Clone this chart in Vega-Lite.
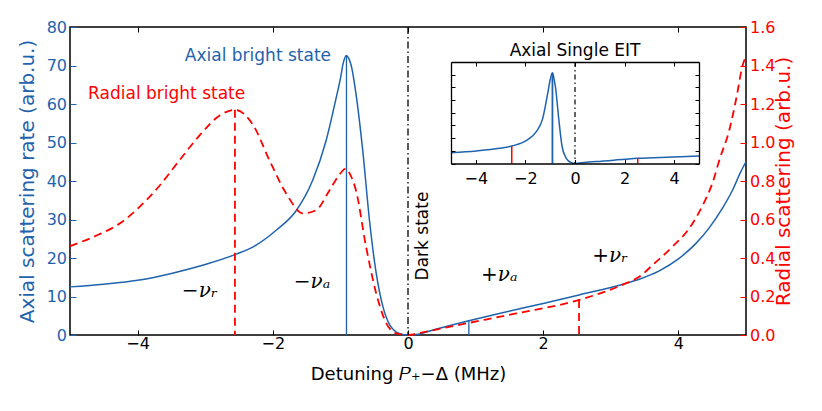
{
  "$schema": "https://vega.github.io/schema/vega-lite/v6.json",
  "width": 676,
  "height": 308,
  "autosize": {"type": "none"},
  "padding": {"left": 70, "top": 27, "right": 76, "bottom": 76},
  "config": {
    "view": {"stroke": "black", "strokeWidth": 1.5},
    "font": "DejaVu Sans",
    "axis": {
      "grid": false,
      "domain": false,
      "labelFont": "DejaVu Sans",
      "titleFont": "DejaVu Sans",
      "labelFontSize": 16,
      "titleFontSize": 20,
      "titleFontWeight": "normal",
      "tickColor": "black",
      "labelColor": "black",
      "titleColor": "black",
      "tickWidth": 1
    }
  },
  "datasets": {
    "axialMain": [
      {"x": -5.0, "y": 12.5}, {"x": -4.5, "y": 13.2}, {"x": -4.0, "y": 14.2}, {"x": -3.5, "y": 16.0},
      {"x": -3.0, "y": 18.3}, {"x": -2.54, "y": 21.0}, {"x": -2.29, "y": 22.9}, {"x": -1.95, "y": 27.2},
      {"x": -1.65, "y": 32.4}, {"x": -1.41, "y": 40.2}, {"x": -1.21, "y": 50.6}, {"x": -1.06, "y": 61.8},
      {"x": -1.0, "y": 66.6}, {"x": -0.96, "y": 70.5}, {"x": -0.91, "y": 72.6}, {"x": -0.875, "y": 71.8},
      {"x": -0.84, "y": 70.0}, {"x": -0.77, "y": 62.7}, {"x": -0.67, "y": 48.0}, {"x": -0.57, "y": 29.8},
      {"x": -0.47, "y": 16.0}, {"x": -0.37, "y": 7.3}, {"x": -0.27, "y": 2.6}, {"x": -0.13, "y": 0.4},
      {"x": 0.0, "y": 0.0}, {"x": 0.12, "y": 0.1}, {"x": 0.37, "y": 1.3}, {"x": 0.9, "y": 3.7},
      {"x": 1.35, "y": 5.6}, {"x": 2.0, "y": 8.2}, {"x": 2.53, "y": 10.4}, {"x": 3.22, "y": 13.4},
      {"x": 3.42, "y": 14.5}, {"x": 3.71, "y": 16.6}, {"x": 4.01, "y": 19.9}, {"x": 4.26, "y": 23.8},
      {"x": 4.45, "y": 27.7}, {"x": 4.65, "y": 32.9}, {"x": 4.8, "y": 37.6}, {"x": 4.92, "y": 42.3},
      {"x": 5.0, "y": 45.0}
    ],
    "radialMain": [
      {"x": -5.0, "y": 0.462}, {"x": -4.6, "y": 0.518}, {"x": -4.26, "y": 0.58}, {"x": -3.97, "y": 0.666},
      {"x": -3.67, "y": 0.778}, {"x": -3.38, "y": 0.908}, {"x": -3.08, "y": 1.038}, {"x": -2.78, "y": 1.142},
      {"x": -2.56, "y": 1.17}, {"x": -2.29, "y": 1.09}, {"x": -2.05, "y": 0.908}, {"x": -1.8, "y": 0.734},
      {"x": -1.55, "y": 0.632}, {"x": -1.36, "y": 0.648}, {"x": -1.16, "y": 0.752}, {"x": -1.0, "y": 0.84},
      {"x": -0.92, "y": 0.864}, {"x": -0.85, "y": 0.83}, {"x": -0.77, "y": 0.752}, {"x": -0.62, "y": 0.458},
      {"x": -0.47, "y": 0.216}, {"x": -0.32, "y": 0.06}, {"x": -0.17, "y": 0.008}, {"x": 0.0, "y": 0.0},
      {"x": 0.27, "y": 0.018}, {"x": 0.86, "y": 0.06}, {"x": 1.6, "y": 0.112}, {"x": 2.53, "y": 0.182},
      {"x": 3.22, "y": 0.268}, {"x": 3.42, "y": 0.302}, {"x": 3.62, "y": 0.364}, {"x": 3.91, "y": 0.458},
      {"x": 4.16, "y": 0.554}, {"x": 4.36, "y": 0.674}, {"x": 4.5, "y": 0.786}, {"x": 4.62, "y": 0.924},
      {"x": 4.75, "y": 1.06}, {"x": 4.85, "y": 1.218}, {"x": 4.95, "y": 1.4}, {"x": 5.0, "y": 1.45}
    ],
    "mainLines": [
      {"x": -0.91, "top": 72.6, "group": "axial"},
      {"x": 0.9, "top": 3.7, "group": "axial"},
      {"x": -2.56, "top": 1.17, "group": "radial"},
      {"x": 2.53, "top": 0.182, "group": "radial"},
      {"x": 0.0, "top": 80, "group": "dark"}
    ],
    "notes": [
      {"text": "Axial bright state", "x": -2.22, "y": 71.1, "kind": "state", "group": "axial"},
      {"text": "Radial bright state", "x": -3.57, "y": 61.2, "kind": "state", "group": "radial"},
      {"text": "Dark state", "x": 0.3, "y": 25.7, "kind": "dark", "group": "neutral"},
      {"text": "−νᵣ", "x": -3.08, "y": 9.9, "kind": "nu", "group": "neutral"},
      {"text": "−νₐ", "x": -1.42, "y": 12.1, "kind": "nu", "group": "neutral"},
      {"text": "+νₐ", "x": 1.35, "y": 14.1, "kind": "nu", "group": "neutral"},
      {"text": "+νᵣ", "x": 2.99, "y": 19.0, "kind": "nu", "group": "neutral"}
    ],
    "insetCurve": [
      {"x": -5.0, "y": 8.5}, {"x": -3.98, "y": 9.9}, {"x": -3.04, "y": 12.0}, {"x": -2.55, "y": 13.8},
      {"x": -1.97, "y": 18.0}, {"x": -1.56, "y": 25.1}, {"x": -1.3, "y": 35.6}, {"x": -1.1, "y": 55.3},
      {"x": -1.0, "y": 66.0}, {"x": -0.91, "y": 71.5}, {"x": -0.85, "y": 67.0}, {"x": -0.79, "y": 60.5},
      {"x": -0.65, "y": 34.3}, {"x": -0.52, "y": 13.2}, {"x": -0.35, "y": 4.1}, {"x": -0.15, "y": 0.6},
      {"x": 0.0, "y": 0.0}, {"x": 0.45, "y": 1.0}, {"x": 0.85, "y": 1.5}, {"x": 2.0, "y": 3.3},
      {"x": 2.53, "y": 4.1}, {"x": 3.94, "y": 5.1}, {"x": 5.0, "y": 5.9}
    ],
    "insetLines": [
      {"x": -0.91, "top": 71.5, "group": "axial"},
      {"x": -2.55, "top": 13.8, "group": "radial"},
      {"x": 2.53, "top": 4.1, "group": "radial"},
      {"x": 0.0, "top": 80, "group": "dark"}
    ],
    "insetTitle": [
      {"text": "Axial Single EIT", "x": 0.0, "y": 84.7}
    ]
  },
  "resolve": {"scale": {"x": "independent", "y": "independent", "color": "independent"}},
  "layer": [
    {
      "data": {"name": "axialMain"},
      "mark": {"type": "line", "color": "#1f63ae", "strokeWidth": 1.5, "interpolate": "monotone"},
      "encoding": {
        "x": {"field": "x", "type": "quantitative",
          "scale": {"domain": [-5, 5], "nice": false, "zero": false},
          "axis": {"orient": "bottom", "values": [-4, -2, 0, 2, 4], "tickSize": -5, "labelPadding": 5.5,
            "title": "Detuning 𝑃₊−Δ (MHz)", "titleFontSize": 18, "titlePadding": 14}},
        "y": {"field": "y", "type": "quantitative",
          "scale": {"domain": [0, 80], "nice": false},
          "axis": {"orient": "left", "values": [0, 10, 20, 30, 40, 50, 60, 70, 80], "tickSize": -6,
            "tickColor": "#1f63ae", "labelColor": "#1f63ae", "labelPadding": 9.5,
            "title": "Axial scattering rate (arb.u.)", "titleColor": "#1f63ae", "titlePadding": 9}}
      }
    },
    {
      "data": {"name": "radialMain"},
      "mark": {"type": "line", "color": "#ff0000", "strokeWidth": 1.8, "strokeDash": [8, 5], "interpolate": "monotone"},
      "encoding": {
        "x": {"field": "x", "type": "quantitative",
          "scale": {"domain": [-5, 5], "nice": false, "zero": false},
          "axis": {"orient": "top", "values": [-4, -2, 0, 2, 4], "tickSize": -5, "labels": false, "title": null}},
        "y": {"field": "y", "type": "quantitative",
          "scale": {"domain": [0, 1.6], "nice": false},
          "axis": {"orient": "right", "values": [0, 0.2, 0.4, 0.6, 0.8, 1.0, 1.2, 1.4, 1.6], "format": ".1f",
            "tickSize": -6, "tickColor": "#ff0000", "labelColor": "#ff0000", "labelPadding": 9.5,
            "title": "Radial scattering (arb.u.)", "titleColor": "#ff0000", "titleAngle": 270,
            "titleBaseline": "top", "titlePadding": -1}}
      }
    },
    {
      "data": {"name": "mainLines"},
      "transform": [{"filter": "datum.group === 'axial'"}],
      "mark": {"type": "rule", "color": "#1f63ae", "strokeWidth": 1.3},
      "encoding": {
        "x": {"field": "x", "type": "quantitative", "scale": {"domain": [-5, 5], "nice": false, "zero": false}, "axis": null},
        "y": {"field": "top", "type": "quantitative", "scale": {"domain": [0, 80], "nice": false}, "axis": null},
        "y2": {"datum": 0}
      }
    },
    {
      "data": {"name": "mainLines"},
      "transform": [{"filter": "datum.group === 'radial'"}],
      "mark": {"type": "rule", "color": "#ff0000", "strokeWidth": 1.8, "strokeDash": [8, 5]},
      "encoding": {
        "x": {"field": "x", "type": "quantitative", "scale": {"domain": [-5, 5], "nice": false, "zero": false}, "axis": null},
        "y": {"field": "top", "type": "quantitative", "scale": {"domain": [0, 1.6], "nice": false}, "axis": null},
        "y2": {"datum": 0}
      }
    },
    {
      "data": {"name": "mainLines"},
      "transform": [{"filter": "datum.group === 'dark'"}],
      "mark": {"type": "rule", "color": "black", "strokeWidth": 1.3, "strokeDash": [7, 3, 1.5, 3]},
      "encoding": {
        "x": {"field": "x", "type": "quantitative", "scale": {"domain": [-5, 5], "nice": false, "zero": false}, "axis": null},
        "y": {"field": "top", "type": "quantitative", "scale": {"domain": [0, 80], "nice": false}, "axis": null},
        "y2": {"datum": 0}
      }
    },
    {
      "data": {"name": "notes"},
      "transform": [{"filter": "datum.kind === 'state'"}],
      "mark": {"type": "text", "fontSize": 17, "align": "center", "baseline": "alphabetic", "font": "DejaVu Sans"},
      "encoding": {
        "x": {"field": "x", "type": "quantitative", "scale": {"domain": [-5, 5], "nice": false, "zero": false}, "axis": null},
        "y": {"field": "y", "type": "quantitative", "scale": {"domain": [0, 80], "nice": false}, "axis": null},
        "text": {"field": "text"},
        "color": {"field": "group", "type": "nominal", "scale": {"domain": ["axial", "radial"], "range": ["#1f63ae", "#ff0000"]}, "legend": null}
      }
    },
    {
      "data": {"name": "notes"},
      "transform": [{"filter": "datum.kind === 'dark'"}],
      "mark": {"type": "text", "fontSize": 17, "align": "center", "baseline": "alphabetic", "angle": 270, "color": "black", "font": "DejaVu Sans"},
      "encoding": {
        "x": {"field": "x", "type": "quantitative", "scale": {"domain": [-5, 5], "nice": false, "zero": false}, "axis": null},
        "y": {"field": "y", "type": "quantitative", "scale": {"domain": [0, 80], "nice": false}, "axis": null},
        "text": {"field": "text"}
      }
    },
    {
      "data": {"name": "notes"},
      "transform": [{"filter": "datum.kind === 'nu'"}],
      "mark": {"type": "text", "fontSize": 20, "align": "center", "baseline": "alphabetic", "color": "black", "font": "DejaVu Serif", "fontStyle": "italic"},
      "encoding": {
        "x": {"field": "x", "type": "quantitative", "scale": {"domain": [-5, 5], "nice": false, "zero": false}, "axis": null},
        "y": {"field": "y", "type": "quantitative", "scale": {"domain": [0, 80], "nice": false}, "axis": null},
        "text": {"field": "text"}
      }
    },
    {
      "data": {"values": [{}]},
      "mark": {"type": "rect", "color": "white"},
      "encoding": {
        "x": {"datum": -5, "type": "quantitative",
          "scale": {"domain": [-5, 5], "range": [381, 629], "nice": false, "zero": false},
          "axis": {"orient": "bottom", "offset": -171.5, "values": [-4, -2, 0, 2, 4], "tickSize": -4, "labelPadding": 11,
            "domain": true, "domainColor": "black", "domainWidth": 1.3, "zindex": 1, "title": null}},
        "x2": {"datum": 5},
        "y": {"datum": 0, "type": "quantitative",
          "scale": {"domain": [0, 80], "range": [136.5, 35], "nice": false},
          "axis": {"orient": "left", "offset": -381, "values": [0, 10, 20, 30, 40, 50, 60, 70, 80], "tickSize": -4, "labels": false,
            "domain": true, "domainColor": "black", "domainWidth": 1.3, "zindex": 1, "title": null}},
        "y2": {"datum": 80}
      }
    },
    {
      "data": {"name": "insetCurve"},
      "mark": {"type": "line", "color": "#1f63ae", "strokeWidth": 1.5, "interpolate": "monotone"},
      "encoding": {
        "x": {"field": "x", "type": "quantitative",
          "scale": {"domain": [-5, 5], "range": [381, 629], "nice": false, "zero": false},
          "axis": {"orient": "top", "offset": -35, "values": [-4, -2, 0, 2, 4], "tickSize": -4, "labels": false,
            "domain": true, "domainColor": "black", "domainWidth": 1.3, "zindex": 1, "title": null}},
        "y": {"field": "y", "type": "quantitative",
          "scale": {"domain": [0, 80], "range": [136.5, 35], "nice": false},
          "axis": {"orient": "right", "offset": -47, "values": [0, 10, 20, 30, 40, 50, 60, 70, 80], "tickSize": -4, "labels": false,
            "domain": true, "domainColor": "black", "domainWidth": 1.3, "zindex": 1, "title": null}}
      }
    },
    {
      "data": {"name": "insetLines"},
      "transform": [{"filter": "datum.group === 'axial'"}],
      "mark": {"type": "rule", "color": "#1f63ae", "strokeWidth": 1.8},
      "encoding": {
        "x": {"field": "x", "type": "quantitative", "scale": {"domain": [-5, 5], "range": [381, 629], "nice": false, "zero": false}, "axis": null},
        "y": {"field": "top", "type": "quantitative", "scale": {"domain": [0, 80], "range": [136.5, 35], "nice": false}, "axis": null},
        "y2": {"datum": 0}
      }
    },
    {
      "data": {"name": "insetLines"},
      "transform": [{"filter": "datum.group === 'radial'"}],
      "mark": {"type": "rule", "color": "#ff0000", "strokeWidth": 1.5},
      "encoding": {
        "x": {"field": "x", "type": "quantitative", "scale": {"domain": [-5, 5], "range": [381, 629], "nice": false, "zero": false}, "axis": null},
        "y": {"field": "top", "type": "quantitative", "scale": {"domain": [0, 80], "range": [136.5, 35], "nice": false}, "axis": null},
        "y2": {"datum": 0}
      }
    },
    {
      "data": {"name": "insetLines"},
      "transform": [{"filter": "datum.group === 'dark'"}],
      "mark": {"type": "rule", "color": "black", "strokeWidth": 1.2, "strokeDash": [5, 3, 1.5, 3]},
      "encoding": {
        "x": {"field": "x", "type": "quantitative", "scale": {"domain": [-5, 5], "range": [381, 629], "nice": false, "zero": false}, "axis": null},
        "y": {"field": "top", "type": "quantitative", "scale": {"domain": [0, 80], "range": [136.5, 35], "nice": false}, "axis": null},
        "y2": {"datum": 0}
      }
    },
    {
      "data": {"name": "insetTitle"},
      "mark": {"type": "text", "fontSize": 17, "align": "center", "baseline": "alphabetic", "color": "black", "font": "DejaVu Sans"},
      "encoding": {
        "x": {"field": "x", "type": "quantitative", "scale": {"domain": [-5, 5], "range": [381, 629], "nice": false, "zero": false}, "axis": null},
        "y": {"field": "y", "type": "quantitative", "scale": {"domain": [0, 80], "range": [136.5, 35], "nice": false}, "axis": null},
        "text": {"field": "text"}
      }
    }
  ]
}
